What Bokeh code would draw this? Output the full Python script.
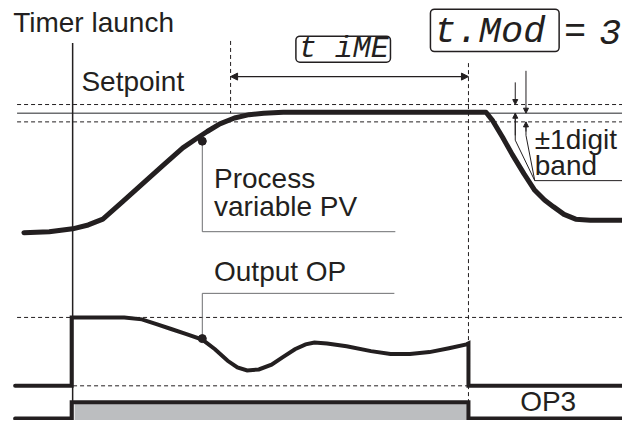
from bokeh.plotting import figure
from bokeh.models import Range1d, Arrow, NormalHead, BoxAnnotation
from bokeh.core.properties import value
from bokeh.embed import file_html
from bokeh.resources import INLINE

# ---- data (in its pixel-like units) ----
pv_x = [24, 50, 74, 90, 105, 125, 147, 167, 187, 200, 212, 225, 240, 255, 270, 290, 498,
        505, 515, 525, 537, 548, 558, 567, 578, 590, 605, 640]
pv_y = [241, 240, 237, 233, 227, 209, 189, 171, 153, 144, 136, 128, 122, 118.5, 117, 116, 116,
        125, 142, 160, 180, 197, 207, 214, 222, 227, 228, 228]

op_x = [15, 73, 73, 127, 145, 160, 175, 190, 207, 220, 233, 243, 253, 265, 278, 290, 302, 313,
        322, 335, 355, 380, 400, 420, 440, 460, 478, 480, 480, 640]
op_y = [400, 400, 329, 329, 331, 336, 341, 346, 352, 362, 374, 381, 384, 383, 378, 370, 362, 357,
        355, 356, 359, 364, 367, 367, 365, 361, 357, 356, 400, 400]

op3_x = [15, 73, 73, 480, 480, 640]
op3_y = [434, 434, 417, 417, 434, 434]
op3_fill = [76, 480, 419, 436]  # left, right, top, bottom

x_left, x_right = 17, 640
band_upper, setpoint, band_lower = 108, 117, 126
op_max, op_min = 329, 400
timer_x, timer_top, bottom_y = 74, 44, 436
time_start, time_start_top, time_start_bottom = 236, 42, 117
time_end, time_end_top, time_end_bottom = 480, 65, 417
time_arrow_y = 79

pv_dot = (207, 146)
pv_leader_x = [207, 207, 405]
pv_leader_y = [146, 240, 240]
op_dot = (207, 351)
op_leader_x = [404, 207, 207]
op_leader_y = [304, 304, 351]

band_lines_xs = [[528, 528, 548, 640], [539, 539, 548]]
band_lines_ys = [[117, 145, 187, 187], [126, 140, 187]]
band_arrows = [  # x, y_from, y_to
    (528, 85, 108), (528, 140, 117), (539, 73, 117), (539, 136, 126)]

labels = ["Timer launch", "Setpoint", "Process", "variable PV", "Output OP", "OP3", "\u00b11digit", "band"]
label_x = [13, 83, 219, 219, 219, 533, 548, 548]
label_y = [33, 94, 195, 224, 292, 427, 155, 182]

disp_boxes = [(303, 400, 37, 64), (441, 573, 9, 53)]
disp_text = ["t iME", "t.Mod", "=", "3"]
disp_x = [306, 445, 578, 614]
disp_y = [61, 43, 43, 43]
disp_size = ["30px", "37px", "37px", "37px"]

INK = "#231f20"
GRAY = "#6d6e71"
TEXT_SHIFT = -10  # screen px: puts the glyph baseline where it was read

p = figure(width=622, height=420, x_range=Range1d(0, 638), y_range=Range1d(436, 0),
           output_backend="svg", toolbar_location=None, min_border=0,
           x_axis_location=None, y_axis_location=None)
p.grid.visible = False
p.outline_line_color = None
p.background_fill_color = "white"

# gray OP3 fill
p.quad(left=[op3_fill[0]], right=[op3_fill[1]], top=[op3_fill[2]], bottom=[op3_fill[3]],
       fill_color="#bcbec0", line_color=None)

# horizontal reference lines
for yy in (band_upper, band_lower, op_max, op_min):
    p.line([x_left, x_right], [yy, yy], line_color=INK, line_width=1, line_dash="4 3")
p.line([x_left, x_right], [setpoint, setpoint], line_color=GRAY, line_width=1.6)

# vertical lines
p.line([timer_x, timer_x], [timer_top, bottom_y], line_color=INK, line_width=1.5)
p.line([time_start, time_start], [time_start_top, time_start_bottom], line_color=INK,
       line_width=1, line_dash="4 3")
p.line([time_end, time_end], [time_end_top, time_end_bottom], line_color=INK,
       line_width=1, line_dash="4 3")

# time arrow
p.add_layout(Arrow(x_start=time_start, y_start=time_arrow_y, x_end=time_end, y_end=time_arrow_y,
                   line_color=INK, line_width=1.3,
                   start=NormalHead(size=7, fill_color=INK, line_color=INK),
                   end=NormalHead(size=7, fill_color=INK, line_color=INK)))

# leaders
p.line(pv_leader_x, pv_leader_y, line_color=GRAY, line_width=1)
p.line(op_leader_x, op_leader_y, line_color=GRAY, line_width=1)
p.multi_line(band_lines_xs, band_lines_ys, line_color=INK, line_width=1)
for bx, y0, y1 in band_arrows:
    p.add_layout(Arrow(x_start=bx, y_start=y0, x_end=bx, y_end=y1, line_color=INK, line_width=1,
                       end=NormalHead(size=5, fill_color=INK, line_color=INK)))

# curves
p.line(pv_x, pv_y, line_color=INK, line_width=5, line_cap="round", line_join="round")
p.line(op_x, op_y, line_color=INK, line_width=4, line_join="miter", line_cap="round")
p.line(op3_x, op3_y, line_color=INK, line_width=4, line_join="miter", line_cap="round")

p.scatter([pv_dot[0], op_dot[0]], [pv_dot[1], op_dot[1]], size=8, fill_color=INK, line_color=INK)

# labels
p.text(label_x, label_y, text=labels, text_font=value("Liberation Sans"), text_font_size="28px",
       text_color=INK, text_baseline="alphabetic", text_align="left", y_offset=TEXT_SHIFT)

# display boxes
for l, r, t, b in disp_boxes:
    p.add_layout(BoxAnnotation(left=l, right=r, top=t, bottom=b, fill_color=None, fill_alpha=0,
                               line_color=INK, line_alpha=1, line_width=1.5, border_radius=4))
for tx, xx, yy, sz in zip(disp_text, disp_x, disp_y, disp_size):
    p.text([xx], [yy], text=[tx], text_font=value("Liberation Mono"), text_font_style="italic",
           text_font_size=sz, text_color=INK, text_baseline="alphabetic", y_offset=TEXT_SHIFT)

open("out.html", "w").write(file_html(p, INLINE))
